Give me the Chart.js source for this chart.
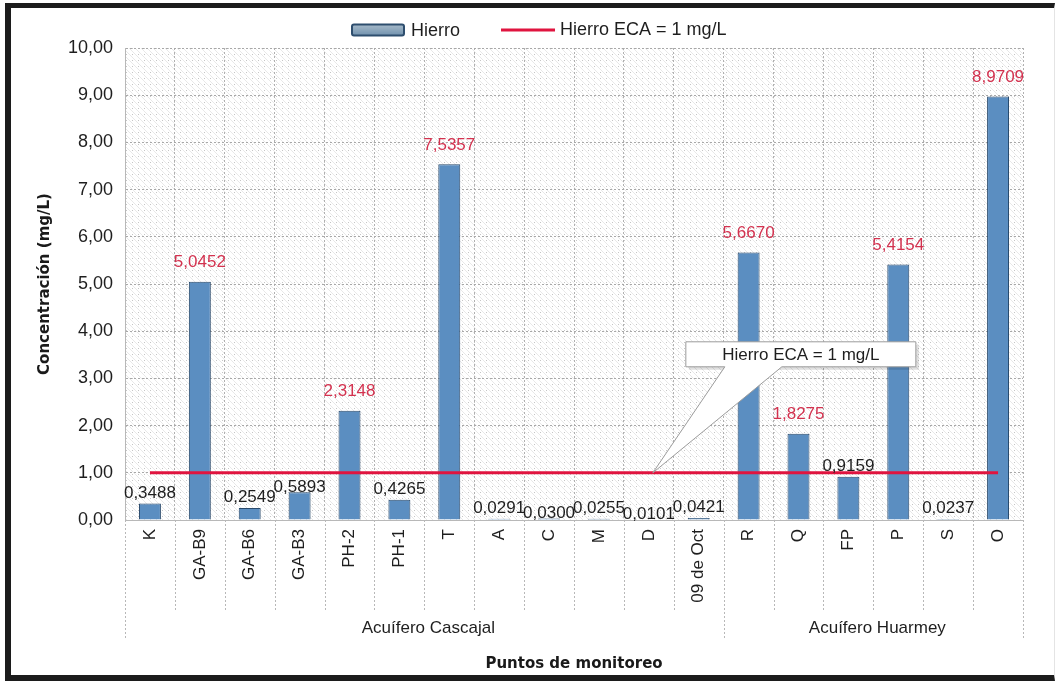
<!DOCTYPE html>
<html lang="es">
<head>
  <meta charset="UTF-8" />
  <title>Hierro - Puntos de monitoreo</title>
  <script src="https://cdn.jsdelivr.net/npm/chart.js"></script>
  <style>
    html, body { margin: 0; padding: 0; background: #fff; }
    body { width: 1062px; height: 687px; position: relative; overflow: hidden; }
    .frame {
      position: absolute; left: 5px; top: 3px; width: 1050px; height: 678px;
      border-left: 6px solid #1c1c1c; border-top: 5px solid #1c1c1c;
      border-bottom: 6px solid #1c1c1c; border-right: 1px solid #e4e4e4;
      box-sizing: border-box;
    }
    .wrap { position: absolute; left: 11px; top: 8px; width: 1042px; height: 673px; }
  </style>
</head>
<body>
  <div class="frame"></div>
  <div class="wrap"><canvas id="chart" width="1042" height="673"></canvas></div>

  <script>
    // puntos de monitoreo y concentraciones (mg/L)
    const puntos = ['K', 'GA-B9', 'GA-B6', 'GA-B3', 'PH-2', 'PH-1', 'T', 'A', 'C', 'M', 'D', '09 de Oct',
                    'R', 'Q', 'FP', 'P', 'S', 'O'];
    const hierro = [0.3488, 5.0452, 0.2549, 0.5893, 2.3148, 0.4265, 7.5357, 0.0291, 0.0300, 0.0255, 0.0101, 0.0421,
                    5.6670, 1.8275, 0.9159, 5.4154, 0.0237, 8.9709];
    const hierroECA = [1, 1, 1, 1, 1, 1, 1, 1, 1, 1, 1, 1, 1, 1, 1, 1, 1, 1];
    const acuiferos = ['Acuífero Cascajal', 'Acuífero Huarmey'];
    const acuiferoInicio = [0, 12];   // primer punto de cada acuífero
    const yTicks = [0, 1, 2, 3, 4, 5, 6, 7, 8, 9, 10];

    const FONT = '"Liberation Sans", Arial, sans-serif';
    const ROJO = '#e0143f';
    const fmt = (v, d) => v.toFixed(d).replace('.', ',');

    // fondo tramado del área de trazado
    function makeHatch(ctx) {
      const c = document.createElement('canvas');
      c.width = 6; c.height = 6;
      const p = c.getContext('2d');
      p.fillStyle = '#ffffff';
      p.fillRect(0, 0, 6, 6);
      p.strokeStyle = 'rgba(140,140,140,0.2)';
      p.lineWidth = 1;
      p.beginPath();
      p.moveTo(-1, -1); p.lineTo(7, 7);
      p.moveTo(-4, 2); p.lineTo(4, 10);
      p.moveTo(2, -4); p.lineTo(10, 4);
      p.stroke();
      p.fillStyle = 'rgba(110,110,110,0.4)';
      p.fillRect(1, 4, 1, 1);
      return ctx.createPattern(c, 'repeat');
    }

    const fondo = {
      id: 'fondo',
      beforeDraw(chart) {
        const { ctx, chartArea: a, scales: { x } } = chart;
        ctx.save();
        ctx.fillStyle = makeHatch(ctx);
        ctx.fillRect(a.left, a.top, a.right - a.left, a.bottom - a.top);
        // prolongación de las líneas verticales en la zona de categorías
        ctx.strokeStyle = '#b8b8b8';
        ctx.lineWidth = 1;
        ctx.setLineDash([2, 2]);
        const half = (x.getPixelForValue(1) - x.getPixelForValue(0)) / 2;
        for (let i = 0; i <= puntos.length; i++) {
          const px = Math.round(x.getPixelForValue(i) - half) + 0.5;
          const grupo = i === puntos.length || acuiferoInicio.includes(i);
          ctx.beginPath();
          ctx.moveTo(px, a.bottom);
          ctx.lineTo(px, a.bottom + (grupo ? 118 : 90));
          ctx.stroke();
        }
        ctx.restore();
      }
    };

    const etiquetas = {
      id: 'etiquetas',
      afterDatasetsDraw(chart) {
        const { ctx, scales: { x, y } } = chart;
        const meta = chart.getDatasetMeta(0);
        ctx.save();
        ctx.font = '17px ' + FONT;
        ctx.textAlign = 'center';
        let prev = null;   // última etiqueta colocada encima de su barra
        meta.data.forEach((bar, i) => {
          const v = hierro[i];
          const txt = fmt(v, 4);
          const w = ctx.measureText(txt).width;
          const alto = v > hierroECA[i];
          ctx.fillStyle = alto ? '#d3324f' : '#1e1e1e';
          const choca = prev && Math.abs(prev.y - bar.y) < 18 && bar.x - w / 2 < prev.right + 2;
          if (choca) {
            // choca con la etiqueta anterior: se baja al nivel de la barra
            ctx.textBaseline = 'middle';
            ctx.fillText(txt, bar.x, bar.y - 5);
          } else {
            ctx.textBaseline = 'bottom';
            ctx.fillText(txt, bar.x, bar.y - (alto ? 11 : 2));
            prev = { y: bar.y, right: bar.x + w / 2 };
          }
        });

        // nombres de los acuíferos
        const half = (x.getPixelForValue(1) - x.getPixelForValue(0)) / 2;
        ctx.fillStyle = '#1e1e1e';
        ctx.textBaseline = 'middle';
        acuiferos.forEach((nombre, g) => {
          const ini = acuiferoInicio[g];
          const fin = g + 1 < acuiferoInicio.length ? acuiferoInicio[g + 1] - 1 : puntos.length - 1;
          const cx = (x.getPixelForValue(ini) - half + x.getPixelForValue(fin) + half) / 2;
          ctx.fillText(nombre, cx + 4, chart.chartArea.bottom + 108);
        });

        // llamada "Hierro ECA = 1 mg/L"
        const tx = x.getPixelForValue(10) + 4, ty = y.getPixelForValue(hierroECA[10]);
        const bx = tx + 33, by = ty - 131, bw = 230, bh = 25;
        ctx.fillStyle = 'rgba(0,0,0,0.12)';
        ctx.fillRect(bx + 3, by + 3, bw, bh);
        ctx.beginPath();
        ctx.moveTo(bx, by);
        ctx.lineTo(bx + bw, by);
        ctx.lineTo(bx + bw, by + bh);
        ctx.lineTo(bx + 96, by + bh);
        ctx.lineTo(tx, ty);
        ctx.lineTo(bx + 39, by + bh);
        ctx.lineTo(bx, by + bh);
        ctx.closePath();
        ctx.fillStyle = '#ffffff';
        ctx.fill();
        ctx.strokeStyle = '#9c9c9c';
        ctx.lineWidth = 1;
        ctx.stroke();
        ctx.fillStyle = '#1e1e1e';
        ctx.font = '17px ' + FONT;
        ctx.fillText('Hierro ECA = 1 mg/L', bx + bw / 2, by + bh / 2 + 1);
        ctx.restore();
      }
    };

    // leyenda superior
    const leyenda = {
      id: 'leyenda',
      afterDraw(chart) {
        const { ctx } = chart;
        const ds = chart.data.datasets;
        const cy = 22;
        ctx.save();
        ctx.font = '18px ' + FONT;
        ctx.textBaseline = 'middle';
        ctx.textAlign = 'left';
        let px = 341;
        // barra
        const g = ctx.createLinearGradient(0, cy - 6, 0, cy + 6);
        g.addColorStop(0, '#a9bccb');
        g.addColorStop(1, '#6f90ad');
        ctx.fillStyle = g;
        ctx.strokeStyle = '#2e4e6e';
        ctx.lineWidth = 2;
        ctx.beginPath();
        ctx.roundRect(px, cy - 5.5, 52, 11, 2);
        ctx.fill();
        ctx.stroke();
        px += 59;
        ctx.fillStyle = '#1e1e1e';
        ctx.fillText(ds[0].label, px, cy + 1);
        px += ctx.measureText(ds[0].label).width + 41;
        // línea
        ctx.strokeStyle = ds[1].borderColor;
        ctx.lineWidth = 3;
        ctx.beginPath();
        ctx.moveTo(px, cy);
        ctx.lineTo(px + 54, cy);
        ctx.stroke();
        px += 59;
        ctx.fillText(ds[1].label, px, cy);
        ctx.restore();
      }
    };

    const ctx = document.getElementById('chart').getContext('2d');
    new Chart(ctx, {
      data: {
        labels: puntos,
        datasets: [
          {
            type: 'bar',
            label: 'Hierro',
            data: hierro,
            backgroundColor: '#5b8ec1',
            borderColor: '#28496b',
            borderWidth: 1,
            barPercentage: 0.44,
            categoryPercentage: 1,
            order: 2
          },
          {
            type: 'line',
            label: 'Hierro ECA = 1 mg/L',
            data: hierroECA,
            borderColor: ROJO,
            backgroundColor: ROJO,
            borderWidth: 3,
            pointRadius: 0,
            fill: false,
            order: 1
          }
        ]
      },
      options: {
        responsive: false,
        animation: false,
        layout: { padding: { top: 40, left: 0, right: 30, bottom: 0 } },
        plugins: {
          tooltip: { enabled: false },
          legend: { display: false }
        },
        scales: {
          x: {
            grid: { color: '#b0b0b0', offset: true, drawTicks: false },
            border: { color: '#b8b8b8', dash: [2, 2] },
            ticks: {
              color: '#1e1e1e',
              font: { family: FONT, size: 17 },
              minRotation: 90, maxRotation: 90, autoSkip: false, padding: 9
            },
            title: {
              display: true,
              text: 'Puntos de monitoreo',
              color: '#1a1a1a',
              font: { family: '"DejaVu Sans", sans-serif', size: 15, weight: 'bold' },
              padding: { top: 0, bottom: 8 }
            },
            afterFit(scale) { scale.height = 161; }
          },
          y: {
            min: 0, max: 10,
            afterBuildTicks(scale) { scale.ticks = yTicks.map(v => ({ value: v })); },
            grid: { color: '#a8a8a8', drawTicks: false },
            border: { color: '#b8b8b8', dash: [2, 2] },
            ticks: {
              color: '#1e1e1e',
              font: { family: FONT, size: 18 },
              padding: 12,
              callback: v => fmt(v, 2)
            },
            title: {
              display: true,
              text: 'Concentración (mg/L)',
              color: '#1a1a1a',
              font: { family: '"DejaVu Sans", sans-serif', size: 15, weight: 'bold' },
              padding: { top: 25, bottom: 0 }
            },
            afterFit(scale) { scale.width = 114; }
          }
        }
      },
      plugins: [fondo, etiquetas, leyenda]
    });
  </script>
</body>
</html>
